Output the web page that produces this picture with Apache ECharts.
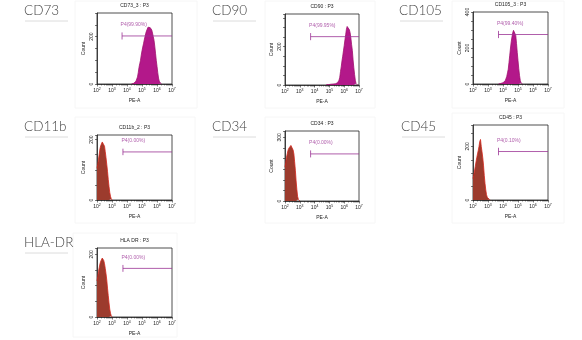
<!DOCTYPE html>
<html>
<head>
<meta charset="utf-8">
<script src="https://cdn.jsdelivr.net/npm/echarts@6/dist/echarts.min.js"></script>
<style>
  html, body { margin: 0; padding: 0; background: #fff; }
  #chart { width: 582px; height: 340px; }
</style>
</head>
<body>
<div id="chart"></div>
<script>
// Surface markers and acquisition labels
const markers = ['CD73', 'CD90', 'CD105', 'CD11b', 'CD34', 'CD45', 'HLA-DR'];
const plotTitles = ['CD73_3 : P3', 'CD90 : P3', 'CD105_3 : P3', 'CD11b_2 : P3', 'CD34 : P3', 'CD45 : P3', 'HLA DR : P3'];
const gateLabels = ['P4(99.90%)', 'P4(99.95%)', 'P4(99.40%)', 'P4(0.00%)', 'P4(0.00%)', 'P4(0.10%)', 'P4(0.00%)'];
const positive = [true, true, true, false, false, false, false];

// P4 gate: left edge (log10 PE-A) and drawing level (count)
const gateStart = [3.67, 3.73, 3.70, 3.73, 3.73, 3.70, 3.73];
const gateLevel = [203, 252, 275, 159, 222, 181, 155];

// Histogram bins are 0.05 decade wide; first bin centre in log10 PE-A
const binWidth = 0.05;
const binStart = [4.3, 4.8, 3.7, 2.0, 2.0, 2.0, 2.0];

const cd73Counts = [0, 1, 2, 3, 5, 8, 12, 20, 30, 48, 70, 86, 100, 122, 140, 156, 170, 186, 200, 214,
  224, 230, 240, 232, 246, 238, 242, 228, 215, 200, 185, 160, 130, 100, 75, 48, 25, 12, 5, 2, 0];
const cd90Counts = [2, 2, 3, 2, 3, 3, 4, 3, 4, 5, 4, 5, 6, 8, 9, 12, 16, 25, 40, 70, 95, 125, 150, 178,
  205, 235, 262, 290, 305, 310, 300, 288, 272, 245, 210, 180, 130, 90, 55, 25, 8, 2, 0];
const cd105Counts = [0, 1, 2, 3, 4, 5, 7, 9, 12, 18, 28, 42, 62, 82, 120, 160, 200, 235, 262, 285,
  298, 308, 292, 270, 225, 175, 130, 85, 48, 20, 6, 1, 0];
const cd11bCounts = [105, 118, 135, 152, 170, 180, 186, 192, 197, 190, 178, 160, 140, 118, 95, 68, 45, 25, 12, 4, 0];
const cd34Counts = [160, 180, 205, 222, 238, 248, 240, 255, 262, 266, 258, 240, 222, 185, 145, 95, 55, 22, 8, 2, 0];
const cd45Counts = [80, 92, 108, 125, 142, 158, 172, 185, 200, 218, 226, 200, 180, 158, 130, 92, 62, 38, 20, 10, 6, 4, 2, 0];
const hladrCounts = [115, 128, 145, 158, 170, 178, 184, 188, 190, 180, 170, 155, 138, 118, 92, 68, 45, 25, 12, 4, 0];
const allCounts = [cd73Counts, cd90Counts, cd105Counts, cd11bCounts, cd34Counts, cd45Counts, hladrCounts];

// Axes
const decades = [2, 3, 4, 5, 6, 7];
const yMax = [300, 370, 400, 215, 330, 280, 220];
const yLabelValues = [[0, 200], [0, 200], [0, 200, 400], [0, 200], [0, 300], [0, 200], [0, 200]];

// Plot boxes (left, top, width, height) and caption placement
const boxes = [
  [97, 13, 75, 71], [285, 14, 74, 71], [473, 12, 75, 72],
  [97, 135, 75, 65], [285, 131, 74, 70], [473, 125, 75, 75],
  [97, 248, 75, 69]
];
const captionPos = [[24, 4], [212, 4], [399, 4], [24, 120], [212, 120], [401, 120], [24, 236]];
const frames = [
  [75, 1, 122, 107], [265, 1, 110, 107], [452, 1, 112, 107],
  [75, 117, 120, 106], [265, 117, 110, 106], [452, 113, 112, 110],
  [73, 233, 104, 104]
];

// Log-decade minor tick positions (2..9 × 10^n)
const minorTicks = [];
for (let n = 2; n < 7; n++) for (let k = 2; k <= 9; k++) minorTicks.push(n + Math.log10(k));

const FONT = 'Arial, Liberation Sans, sans-serif';
const GATE = '#9c3596';
const grids = [], xAxes = [], yAxes = [], series = [], graphics = [];

markers.forEach((m, i) => {
  const [l, t, w, h] = boxes[i];
  grids.push({ left: l, top: t, width: w, height: h, show: true, borderColor: '#222', borderWidth: 0.8, backgroundColor: '#fff' });

  xAxes.push({
    gridIndex: i, type: 'value', min: 2, max: 7, interval: 1,
    name: 'PE-A', nameLocation: 'middle', nameGap: 14,
    nameTextStyle: { fontSize: 5, color: '#222', fontFamily: FONT },
    axisLine: { show: true, lineStyle: { color: '#222', width: 0.8 } },
    axisTick: { show: true, length: 2.5, lineStyle: { color: '#222', width: 0.6 } },
    splitLine: { show: false },
    axisLabel: {
      margin: 3,
      formatter: v => '{b|10}{s|' + v + '}',
      rich: {
        b: { fontSize: 5, color: '#222', fontFamily: FONT },
        s: { fontSize: 3.5, color: '#222', verticalAlign: 'top', padding: [0, 0, 3, 0], fontFamily: FONT }
      }
    }
  });
  xAxes.push({
    gridIndex: i, type: 'value', min: 2, max: 7, position: 'bottom',
    axisLine: { show: false }, axisLabel: { show: false }, splitLine: { show: false },
    axisTick: { show: true, length: 1.5, customValues: minorTicks, lineStyle: { color: '#222', width: 0.5 } }
  });

  yAxes.push({
    gridIndex: i, type: 'value', min: 0, max: yMax[i], interval: 50,
    name: 'Count', nameLocation: 'middle', nameGap: 11,
    nameTextStyle: { fontSize: 5, color: '#222', fontFamily: FONT },
    axisLine: { show: true, lineStyle: { color: '#222', width: 0.8 } },
    axisTick: { show: true, length: 2, lineStyle: { color: '#222', width: 0.6 } },
    splitLine: { show: false },
    axisLabel: {
      customValues: yLabelValues[i], rotate: 90, margin: 3,
      fontSize: 5, color: '#222', fontFamily: FONT
    }
  });

  const counts = allCounts[i];
  const pts = counts.map((c, k) => [binStart[i] + k * binWidth, c]);
  series.push({
    type: 'line', xAxisIndex: 2 * i, yAxisIndex: i, data: pts,
    showSymbol: false, symbol: 'none', silent: true, clip: true,
    lineStyle: { color: positive[i] ? '#a0106f' : '#d4261c', width: 0.8 },
    areaStyle: { color: positive[i] ? '#b3188a' : '#9c3b2d', opacity: 1 },
    z: 2
  });

  // Gate bar with left-end tick and label
  const g = gateStart[i], lv = gateLevel[i], tk = yMax[i] * 0.05;
  series.push({
    type: 'line', xAxisIndex: 2 * i, yAxisIndex: i, silent: true, showSymbol: false, symbol: 'none',
    lineStyle: { color: GATE, width: 0.8 },
    data: [[g, lv], [7, lv]], z: 3
  });
  series.push({
    type: 'line', xAxisIndex: 2 * i, yAxisIndex: i, silent: true, showSymbol: false, symbol: 'none',
    lineStyle: { color: GATE, width: 0.8 },
    data: [[g, lv - tk], [g, lv + tk]], z: 3
  });
  series.push({
    type: 'scatter', xAxisIndex: 2 * i, yAxisIndex: i, silent: true,
    symbolSize: 1, itemStyle: { color: 'rgba(0,0,0,0)' },
    data: [[g, lv]],
    label: {
      show: true, formatter: gateLabels[i], position: [-1, -8], align: 'left', verticalAlign: 'bottom',
      fontSize: 5, color: GATE, fontFamily: FONT
    },
    z: 4
  });

  // Panel frame, plot caption and marker heading
  const [fx, fy, fw, fh] = frames[i];
  graphics.push({ type: 'rect', shape: { x: fx, y: fy, width: fw, height: fh }, style: { fill: 'none', stroke: '#f6f6f6', lineWidth: 1 }, z: -10 });
  graphics.push({
    type: 'text', x: l + w / 2, y: t - 7,
    style: { text: plotTitles[i], fontSize: 5, fontFamily: FONT, fill: '#222', align: 'center', textAlign: 'center', verticalAlign: 'middle', textVerticalAlign: 'middle' }
  });
  const [cx, cy] = captionPos[i];
  graphics.push({
    type: 'text', x: cx, y: cy,
    style: { text: m, fontSize: 13.5, fontWeight: 300, fontFamily: 'Lato, Open Sans, sans-serif', fill: '#444' }
  });
  graphics.push({
    type: 'line', shape: { x1: cx + 1, y1: cy + 17, x2: cx + 44, y2: cy + 17 },
    style: { stroke: '#dcdcdc', lineWidth: 1 }
  });
});

const chart = echarts.init(document.getElementById('chart'), null, { renderer: 'canvas' });
chart.setOption({
  animation: false,
  backgroundColor: '#fff',
  grid: grids,
  xAxis: xAxes,
  yAxis: yAxes,
  series: series,
  graphic: graphics
});
</script>
</body>
</html>
